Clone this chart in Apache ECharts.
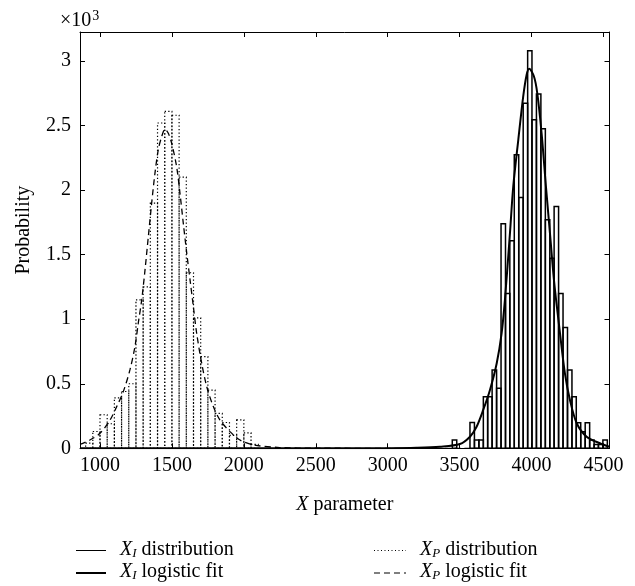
<!DOCTYPE html>
<html>
<head>
<meta charset="utf-8">
<script src="https://cdn.jsdelivr.net/npm/echarts@6/dist/echarts.min.js"></script>
<style>
html,body{margin:0;padding:0;background:#fff;}
#chart{width:635px;height:586px;}
</style>
</head>
<body>
<div id="chart"></div>
<script>
// ---- data (y in units of 10^-3 as shown) ----
var xTicks = [1000, 1500, 2000, 2500, 3000, 3500, 4000, 4500];
var yTicks = [0, 0.5, 1, 1.5, 2, 2.5, 3];

// X_P distribution histogram: bin left edges, bin right edges, heights
var xpBinLeft  = [900, 950, 1000, 1050, 1100, 1150, 1200, 1250, 1300, 1350, 1400, 1450, 1500, 1550, 1600, 1650, 1700, 1750, 1800, 1850, 1900, 1950, 2000, 2050];
var xpBinRight = [950, 1000, 1050, 1100, 1150, 1200, 1250, 1300, 1350, 1400, 1450, 1500, 1550, 1600, 1650, 1700, 1750, 1800, 1850, 1900, 1950, 2000, 2050, 2100];
var xpHist     = [0.04, 0.13, 0.26, 0.19, 0.39, 0.44, 0.50, 1.15, 1.25, 1.90, 2.52, 2.61, 2.58, 2.10, 1.36, 1.01, 0.71, 0.45, 0.27, 0.20, 0.10, 0.22, 0.12, 0.03];

// X_I distribution histogram
var xiBinLeft  = [3449, 3480, 3511, 3541, 3572, 3603, 3634, 3665, 3695, 3726, 3757, 3788, 3819, 3849, 3880, 3911, 3942, 3973, 4003, 4034, 4065, 4096, 4127, 4157, 4188, 4219, 4250, 4281, 4311, 4342, 4373, 4404, 4435, 4465, 4496];
var xiBinRight = [3480, 3511, 3541, 3572, 3603, 3634, 3665, 3695, 3726, 3757, 3788, 3819, 3849, 3880, 3911, 3942, 3973, 4003, 4034, 4065, 4096, 4127, 4157, 4188, 4219, 4250, 4281, 4311, 4342, 4373, 4404, 4435, 4465, 4496, 4527];
var xiHist     = [0.064, 0, 0, 0, 0.20, 0.064, 0.064, 0.40, 0.40, 0.607, 0.465, 1.739, 1.20, 1.607, 2.274, 1.943, 2.674, 3.08, 2.545, 2.744, 2.475, 1.77, 1.473, 1.873, 1.20, 0.935, 0.607, 0.40, 0.198, 0.129, 0.198, 0.064, 0.03, 0.03, 0.064];

// X_P logistic fit (dashed) points
var xpFitX = [861, 930, 1000, 1070, 1116, 1162, 1208, 1243, 1266, 1290, 1313, 1336, 1359, 1382, 1405, 1429, 1452, 1475, 1498, 1533, 1556, 1579, 1603, 1626, 1649, 1672, 1707, 1742, 1788, 1834, 1904, 1973, 2066, 2250, 2500, 3000, 3500, 4000, 4542];
var xpFitY = [0.03, 0.064, 0.116, 0.219, 0.323, 0.439, 0.607, 0.788, 0.969, 1.15, 1.382, 1.64, 1.897, 2.13, 2.312, 2.415, 2.473, 2.44, 2.364, 2.18, 1.976, 1.744, 1.512, 1.305, 1.098, 0.891, 0.659, 0.478, 0.323, 0.219, 0.129, 0.064, 0.026, 0.006, 0.001, 0, 0, 0, 0];

// X_I logistic fit (solid thick) points
var xiFitX = [861, 2000, 2600, 3000, 3200, 3363, 3502, 3572, 3618, 3664, 3711, 3758, 3792, 3815, 3850, 3873, 3908, 3942, 3966, 3984, 4017, 4040, 4070, 4100, 4128, 4158, 4198, 4232, 4267, 4314, 4383, 4475, 4542];
var xiFitY = [0, 0, 0, 0.001, 0.004, 0.012, 0.033, 0.09, 0.167, 0.297, 0.452, 0.659, 0.891, 1.15, 1.667, 2.03, 2.39, 2.725, 2.894, 2.94, 2.88, 2.75, 2.44, 2.03, 1.667, 1.279, 0.891, 0.581, 0.374, 0.194, 0.09, 0.039, 0.012];

var xMin = 861, xMax = 4542, yMin = 0, yMax = 3.225;

// ---- build ----
function zip3(a, b, c) { var r = []; for (var i = 0; i < a.length; i++) r.push([a[i], b[i], c[i]]); return r; }
function zip2(a, b) { var r = []; for (var i = 0; i < a.length; i++) r.push([a[i], b[i]]); return r; }

var FONT = '"Liberation Serif", "DejaVu Serif", serif';
var FS = 20;

function histRenderer(style) {
  return function (params, api) {
    var h = api.value(2);
    if (!(h > 0)) return null;
    var p0 = api.coord([api.value(0), h]);
    var p1 = api.coord([api.value(1), 0]);
    return {
      type: 'rect',
      shape: { x: p0[0], y: p0[1], width: p1[0] - p0[0], height: p1[1] - p0[1] },
      style: style
    };
  };
}

var chart = echarts.init(document.getElementById('chart'), null, { renderer: 'canvas' });

var axisCommon = {
  type: 'value',
  axisLine: { show: true, onZero: false, lineStyle: { color: '#000', width: 1 } },
  splitLine: { show: false }
};
function plain(v) { return String(v); }

var subRich = {
  i: { fontStyle: 'italic', fontFamily: FONT, fontSize: FS },
  sub: { fontStyle: 'italic', fontFamily: FONT, fontSize: 13, padding: [7, 0, 0, 0] }
};

var option = {
  backgroundColor: '#fff',
  animation: false,
  grid: { left: 80, right: 25.5, top: 32, bottom: 137.7, containLabel: false },
  xAxis: [
    Object.assign({}, axisCommon, {
      min: xMin, max: xMax, position: 'bottom',
      axisTick: { show: true, inside: true, length: 5, customValues: xTicks, lineStyle: { color: '#000' } },
      axisLabel: { show: true, customValues: xTicks, formatter: plain, margin: 7, color: '#000', fontFamily: FONT, fontSize: FS },
      name: '{i|X} parameter', nameLocation: 'middle', nameGap: 46,
      nameTextStyle: { color: '#000', fontFamily: FONT, fontSize: FS,
        rich: { i: { fontStyle: 'italic', fontFamily: FONT, fontSize: FS, color: '#000' } } }
    }),
    Object.assign({}, axisCommon, {
      min: xMin, max: xMax, position: 'top',
      axisTick: { show: true, inside: true, length: 5, customValues: xTicks, lineStyle: { color: '#000' } },
      axisLabel: { show: false }
    })
  ],
  yAxis: [
    Object.assign({}, axisCommon, {
      min: yMin, max: yMax, position: 'left',
      axisTick: { show: true, inside: true, length: 5, customValues: yTicks, lineStyle: { color: '#000' } },
      axisLabel: { show: true, customValues: yTicks, formatter: plain, margin: 9, color: '#000', fontFamily: FONT, fontSize: FS },
      name: 'Probability', nameLocation: 'middle', nameGap: 46, nameRotate: 90,
      nameTextStyle: { color: '#000', fontFamily: FONT, fontSize: FS, padding: [0, 0, 0, 20] }
    }),
    Object.assign({}, axisCommon, {
      min: yMin, max: yMax, position: 'right',
      axisTick: { show: true, inside: true, length: 5, customValues: yTicks, lineStyle: { color: '#000' } },
      axisLabel: { show: false }
    })
  ],
  graphic: [
    { type: 'text', left: 60, top: 9, style: { text: '×10{s|3}', fill: '#000', font: FS + 'px ' + FONT,
        rich: { s: { fontSize: 14, fontFamily: FONT, verticalAlign: 'top', padding: [0, 0, 9, 1] } } } },
    // legend, left column
    { type: 'line', shape: { x1: 76, y1: 550.5, x2: 106, y2: 550.5 }, style: { stroke: '#000', lineWidth: 1 } },
    { type: 'text', left: 120, top: 540, style: { text: '{i|X}{sub|I} distribution', fill: '#000', font: FS + 'px ' + FONT, rich: subRich } },
    { type: 'line', shape: { x1: 76, y1: 573, x2: 106, y2: 573 }, style: { stroke: '#000', lineWidth: 2 } },
    { type: 'text', left: 120, top: 562, style: { text: '{i|X}{sub|I} logistic fit', fill: '#000', font: FS + 'px ' + FONT, rich: subRich } },
    // legend, right column
    { type: 'line', shape: { x1: 374, y1: 550.5, x2: 406, y2: 550.5 }, style: { stroke: '#000', lineWidth: 1, lineDash: [1, 2.5] } },
    { type: 'text', left: 420, top: 540, style: { text: '{i|X}{sub|P} distribution', fill: '#000', font: FS + 'px ' + FONT, rich: subRich } },
    { type: 'line', shape: { x1: 374, y1: 573, x2: 406, y2: 573 }, style: { stroke: '#000', lineWidth: 1.2, lineDash: [6, 4] } },
    { type: 'text', left: 420, top: 562, style: { text: '{i|X}{sub|P} logistic fit', fill: '#000', font: FS + 'px ' + FONT, rich: subRich } }
  ],
  series: [
    {
      name: 'XP distribution', type: 'custom', xAxisIndex: 0, yAxisIndex: 0,
      renderItem: histRenderer({ fill: 'none', stroke: '#000', lineWidth: 1.2, lineDash: [1.3, 2.2] }),
      encode: { x: [0, 1], y: 2 },
      data: zip3(xpBinLeft, xpBinRight, xpHist), z: 2
    },
    {
      name: 'XI distribution', type: 'custom', xAxisIndex: 0, yAxisIndex: 0,
      renderItem: histRenderer({ fill: 'none', stroke: '#000', lineWidth: 1.5 }),
      encode: { x: [0, 1], y: 2 },
      data: zip3(xiBinLeft, xiBinRight, xiHist), z: 2
    },
    {
      name: 'XP logistic fit', type: 'line', smooth: 0.3, symbol: 'none', xAxisIndex: 0, yAxisIndex: 0,
      lineStyle: { color: '#000', width: 1.3, type: [6, 4] },
      data: zip2(xpFitX, xpFitY), z: 3
    },
    {
      name: 'XI logistic fit', type: 'line', smooth: 0.3, symbol: 'none', xAxisIndex: 0, yAxisIndex: 0,
      lineStyle: { color: '#000', width: 2 },
      data: zip2(xiFitX, xiFitY), z: 3
    }
  ]
};
chart.setOption(option);
</script>
</body>
</html>
